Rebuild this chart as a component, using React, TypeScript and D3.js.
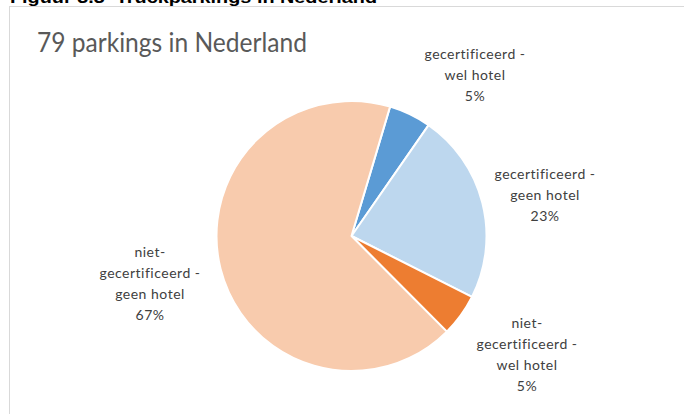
import React from "react";
import * as d3 from "d3";

const categories = [
  "gecertificeerd - wel hotel",
  "gecertificeerd - geen hotel",
  "niet-gecertificeerd - wel hotel",
  "niet-gecertificeerd - geen hotel",
];
const counts = [4, 18, 4, 53];
const labelLines = [
  ["gecertificeerd -", "wel hotel", "5%"],
  ["gecertificeerd -", "geen hotel", "23%"],
  ["niet-", "gecertificeerd -", "wel hotel", "5%"],
  ["niet-", "gecertificeerd -", "geen hotel", "67%"],
];
const colors = ["#5B9BD5", "#BDD7EE", "#ED7D31", "#F8CBAD"];
const headerText = "Figuur 3.3  Truckparkings in Nederland";
const titleText = "79 parkings in Nederland";

const W = 684;
const H = 414;
const cx = 351.5;
const cy = 236;
const R = 135;
const startDeg = 16.6;
// label anchor points (center x, first baseline y)
const labelPos: [number, number][] = [
  [475, 59],
  [545, 179],
  [527, 328],
  [150, 256.5],
];
const lineH = 21;

export default function App() {
  const pie = d3
    .pie<number>()
    .sort(null)
    .startAngle((startDeg * Math.PI) / 180)
    .endAngle((startDeg * Math.PI) / 180 + 2 * Math.PI);
  const arcs = pie(counts);
  const arc = d3.arc<d3.PieArcDatum<number>>().innerRadius(0).outerRadius(R);

  return (
    <svg
      width={W}
      height={H}
      style={{ position: "absolute", left: 0, top: 0, background: "#fff" }}
    >
      <rect x={0} y={0} width={W} height={H} fill="#fff" />
      <text
        x={10}
        y={3}
        fontFamily="Liberation Sans, Arial, sans-serif"
        fontWeight="bold"
        fontSize={17}
        fill="#000"
        textLength={367}
        lengthAdjust="spacingAndGlyphs"
        style={{ whiteSpace: "pre" }}
      >
        {headerText}
      </text>
      <rect
        x={9.5}
        y={6.5}
        width={W + 20}
        height={H + 20}
        fill="#fff"
        stroke="#D9D9D9"
        strokeWidth={1}
      />
      <text
        x={37}
        y={51.7}
        fontFamily="Lato, sans-serif"
        fontSize={26}
        fill="#595959"
        textLength={270}
        lengthAdjust="spacingAndGlyphs"
      >
        {titleText}
      </text>
      <g transform={`translate(${cx},${cy})`}>
        {arcs.map((a, i) => (
          <path
            key={categories[i]}
            d={arc(a) || ""}
            fill={colors[i]}
            stroke="#fff"
            strokeWidth={2}
            strokeLinejoin="round"
          />
        ))}
      </g>
      {labelLines.map((lines, i) => (
        <text
          key={categories[i]}
          fontFamily="Lato, sans-serif"
          fontSize={14}
          fill="#404040"
          textAnchor="middle"
          letterSpacing={0.5}
        >
          {lines.map((l, j) => (
            <tspan key={j} x={labelPos[i][0]} y={labelPos[i][1] + j * lineH}>
              {l}
            </tspan>
          ))}
        </text>
      ))}
    </svg>
  );
}
